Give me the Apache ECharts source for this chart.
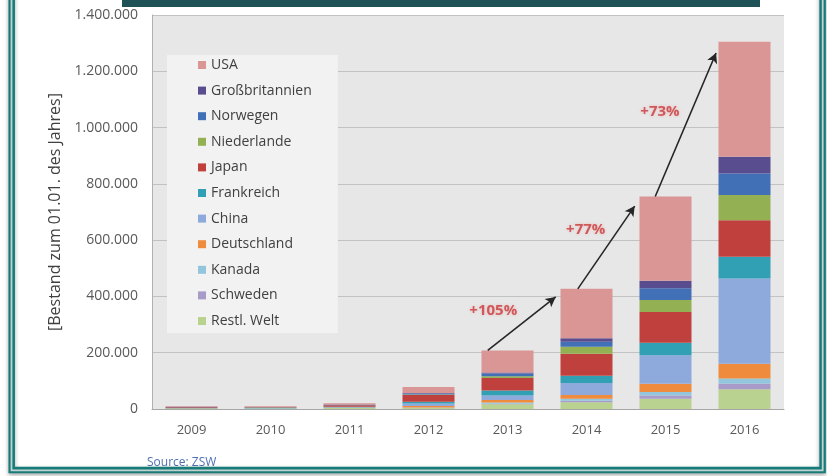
<!DOCTYPE html>
<html>
<head>
<meta charset="utf-8">
<script src="https://cdn.jsdelivr.net/npm/echarts@6/dist/echarts.min.js"></script>
<style>
  html, body { margin: 0; padding: 0; background: #ffffff; }
  #chart { width: 827px; height: 476px; }
</style>
</head>
<body>
<div id="chart"></div>
<script>
// Years on the category axis
const years = ['2009', '2010', '2011', '2012', '2013', '2014', '2015', '2016'];

// Electric vehicle stock per country (as of 1 January), stacked bottom to top
const restlWelt      = [1800, 1400, 3200, 3500, 17000, 24000, 36000, 70000];
const schweden       = [100, 100, 300, 1000, 2000, 5000, 12000, 20000];
const kanada         = [100, 200, 500, 1000, 4000, 7000, 12000, 18000];
const deutschland    = [300, 400, 1000, 5000, 9000, 14000, 30000, 53000];
const china          = [500, 500, 1500, 9000, 16000, 42000, 101000, 303000];
const frankreich     = [500, 600, 1500, 6000, 18000, 26000, 44000, 77000];
const japan          = [3000, 2500, 5000, 24000, 44000, 78000, 110000, 130000];
const niederlande    = [200, 300, 500, 2000, 6000, 25000, 42000, 89000];
const norwegen       = [1000, 1000, 1500, 4000, 10000, 18000, 42000, 77000];
const grossbritannien = [500, 500, 1000, 1500, 4000, 12000, 27000, 59000];
const usa            = [2000, 2500, 4000, 21000, 78000, 176000, 299000, 409000];

// Value axis ticks
const yTicks = [0, 200000, 400000, 600000, 800000, 1000000, 1200000, 1400000];

// Growth annotations: which year each one refers to, where its text sits
// and where its arrow starts and ends (x in category index units)
const growthYearIdx = [5, 6, 7];
const growthLabelX = [3.82, 4.99, 5.93];
const growthLabelY = [349000, 637000, 1057000];
const arrowFromX = [3.75, 4.89, 5.87];
const arrowToX = [4.61, 5.61, 6.64];
const arrowToY = [398000, 721000, 1265000];

const seriesDefs = [
  { name: 'Restl. Welt', data: restlWelt, color: '#b9d28f' },
  { name: 'Schweden', data: schweden, color: '#a99bc9' },
  { name: 'Kanada', data: kanada, color: '#93c6dc' },
  { name: 'Deutschland', data: deutschland, color: '#ef8b3c' },
  { name: 'China', data: china, color: '#8eaadc' },
  { name: 'Frankreich', data: frankreich, color: '#31a0b4' },
  { name: 'Japan', data: japan, color: '#c0403d' },
  { name: 'Niederlande', data: niederlande, color: '#93b153' },
  { name: 'Norwegen', data: norwegen, color: '#4270b6' },
  { name: 'Großbritannien', data: grossbritannien, color: '#5a4d8f' },
  { name: 'USA', data: usa, color: '#d99694' }
];

const totals = years.map((_, i) => seriesDefs.reduce((s, d) => s + d.data[i], 0));

function deNumber(n) {
  return String(n).replace(/\B(?=(\d{3})+(?!\d))/g, '.');
}

const FONT = '"Open Sans", "Noto Sans", sans-serif';

const barSeries = seriesDefs.map(d => ({
  name: d.name,
  type: 'bar',
  stack: 'bestand',
  data: d.data,
  barWidth: 52,
  itemStyle: { color: d.color },
  emphasis: { disabled: true }
}));

const growthPoints = growthYearIdx.map((yi, k) => {
  const pct = Math.round((totals[yi] / totals[yi - 1] - 1) * 100);
  return { value: [growthLabelX[k], growthLabelY[k]], text: '+' + pct + '%' };
});

const arrowLines = growthYearIdx.map((yi, k) => [
  { coord: [arrowFromX[k], totals[yi - 1]] },
  { coord: [arrowToX[k], arrowToY[k]] }
]);

const annotationSeries = {
  name: 'growth',
  type: 'scatter',
  xAxisIndex: 1,
  yAxisIndex: 0,
  symbolSize: 0,
  silent: true,
  data: growthPoints.map(p => ({ value: p.value, label: { formatter: p.text } })),
  label: {
    show: true,
    position: 'inside',
    fontFamily: FONT,
    fontSize: 15,
    fontWeight: 'bold',
    color: '#c9393c',
    textShadowColor: 'rgba(240,140,140,0.6)',
    textShadowBlur: 3
  },
  markLine: {
    silent: true,
    symbol: ['none', 'arrow'],
    symbolSize: [8, 10],
    label: { show: false },
    lineStyle: { color: '#262626', width: 1.6, type: 'solid' },
    data: arrowLines
  }
};

const chart = echarts.init(document.getElementById('chart'), null, { renderer: 'canvas' });

chart.setOption({
  animation: false,
  backgroundColor: '#ffffff',
  textStyle: { fontFamily: FONT },
  title: {
    text: 'Source: ZSW',
    left: 142,
    top: 452,
    textStyle: { fontFamily: FONT, fontSize: 12, fontWeight: 'normal', color: '#4f71b4' }
  },
  grid: {
    left: 152,
    right: 43,
    top: 15,
    bottom: 67,
    show: true,
    backgroundColor: '#e7e7e7',
    borderWidth: 0
  },
  legend: {
    orient: 'vertical',
    left: 167,
    top: 55,
    padding: [3, 26, 5, 31],
    backgroundColor: '#f2f2f2',
    itemWidth: 8,
    itemHeight: 8,
    itemGap: 11.6,
    icon: 'rect',
    selectedMode: false,
    data: seriesDefs.map(d => d.name).reverse(),
    textStyle: { fontFamily: FONT, fontSize: 14, color: '#404040', lineHeight: 14 }
  },
  xAxis: [
    {
      type: 'category',
      data: years,
      axisLine: { show: true, lineStyle: { color: '#a6a6a6', width: 1 } },
      axisTick: { show: false },
      axisLabel: { margin: 15, fontFamily: FONT, fontSize: 13, color: '#595959' }
    },
    {
      type: 'value',
      min: -0.5,
      max: 7.5,
      show: false
    }
  ],
  yAxis: {
    type: 'value',
    min: yTicks[0],
    max: yTicks[yTicks.length - 1],
    interval: yTicks[1] - yTicks[0],
    name: '[Bestand zum 01.01. des Jahres]',
    nameLocation: 'middle',
    nameRotate: 90,
    nameGap: 86,
    nameTextStyle: { fontFamily: FONT, fontSize: 16, color: '#404040' },
    axisLine: { show: true, onZero: false, lineStyle: { color: '#b0b0b0', width: 1 } },
    axisTick: { show: false },
    splitLine: { show: true, lineStyle: { color: '#c2c2c2', width: 1.2 } },
    axisLabel: {
      margin: 14,
      fontFamily: FONT,
      fontSize: 14,
      color: '#595959',
      formatter: v => deNumber(v)
    }
  },
  graphic: [
    {
      type: 'rect',
      silent: true,
      z: 100,
      shape: { x: 122, y: 0, width: 638, height: 7 },
      style: { fill: '#1f5257' }
    },
    {
      type: 'rect',
      silent: true,
      z: 100,
      shape: { x: 11.7, y: -20, width: 810.9, height: 490 },
      style: {
        fill: 'none',
        stroke: '#167b79',
        lineWidth: 6.5,
        shadowColor: 'rgba(0,0,0,0.35)',
        shadowBlur: 4,
        shadowOffsetY: 2
      }
    },
    {
      type: 'rect',
      silent: true,
      z: 101,
      shape: { x: 11.5, y: -20, width: 811.2, height: 490.3 },
      style: { fill: 'none', stroke: '#c3d2d1', lineWidth: 1.8 }
    }
  ],
  series: barSeries.concat([annotationSeries])
});
</script>
</body>
</html>
